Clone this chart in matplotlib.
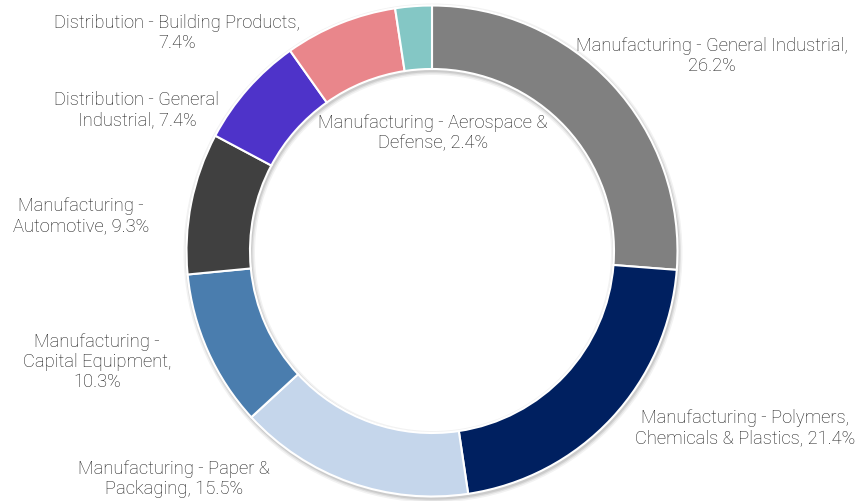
import matplotlib
matplotlib.use('Agg')
import matplotlib.pyplot as plt

# sector shares, clockwise from 12 o'clock
labels = ['Manufacturing - General Industrial,\n26.2%',
          'Manufacturing - Polymers,\nChemicals & Plastics, 21.4%',
          'Manufacturing - Paper &\nPackaging, 15.5%',
          'Manufacturing -\nCapital Equipment,\n10.3%',
          'Manufacturing -\nAutomotive, 9.3%',
          'Distribution - General\nIndustrial, 7.4%',
          'Distribution - Building Products,\n7.4%',
          'Manufacturing - Aerospace &\nDefense, 2.4%']
shares = [26.2, 21.4, 15.5, 10.3, 9.3, 7.4, 7.4, 2.4]
colors = ['#808080', '#002060', '#C5D6EB', '#4A7DAE', '#404040',
          '#4E33C9', '#E9868B', '#84C7C5']

# label anchor points (pixels from top-left)
label_xy = [(712, 56), (745, 428), (174, 479), (97, 362),
            (81, 216), (137, 110), (177, 33), (433, 133)]

W, H = 862, 502
fig = plt.figure(figsize=(W / 100, H / 100), dpi=100)
ax = fig.add_axes([0, 0, 1, 1])
ax.set_xlim(0, W)
ax.set_ylim(0, H)
ax.set_aspect('equal')
ax.axis('off')

cx, cy = 432, H - 252
R = 245.5
ring = 63.5

# soft shadow behind the ring
for k, a in [(4, 0.05), (2.5, 0.07), (1.2, 0.09)]:
    ax.pie([1], radius=R + k, center=(cx + 1, cy - 2), colors=['#000000'],
           wedgeprops=dict(width=ring + 2 * k, alpha=a, linewidth=0))

ax.pie(shares, radius=R, center=(cx, cy), colors=colors, startangle=90,
       counterclock=False,
       wedgeprops=dict(width=ring, edgecolor='white', linewidth=1.5))
ax.set_xlim(0, W)
ax.set_ylim(0, H)

for lab, (px, py) in zip(labels, label_xy):
    ax.text(px, H - py, lab, ha='center', va='center', fontsize=13.2,
            family=['Roboto', 'DejaVu Sans'], fontweight='light',
            color='#1a1a1a', linespacing=1.15)

fig.savefig('out.png', dpi=100)
